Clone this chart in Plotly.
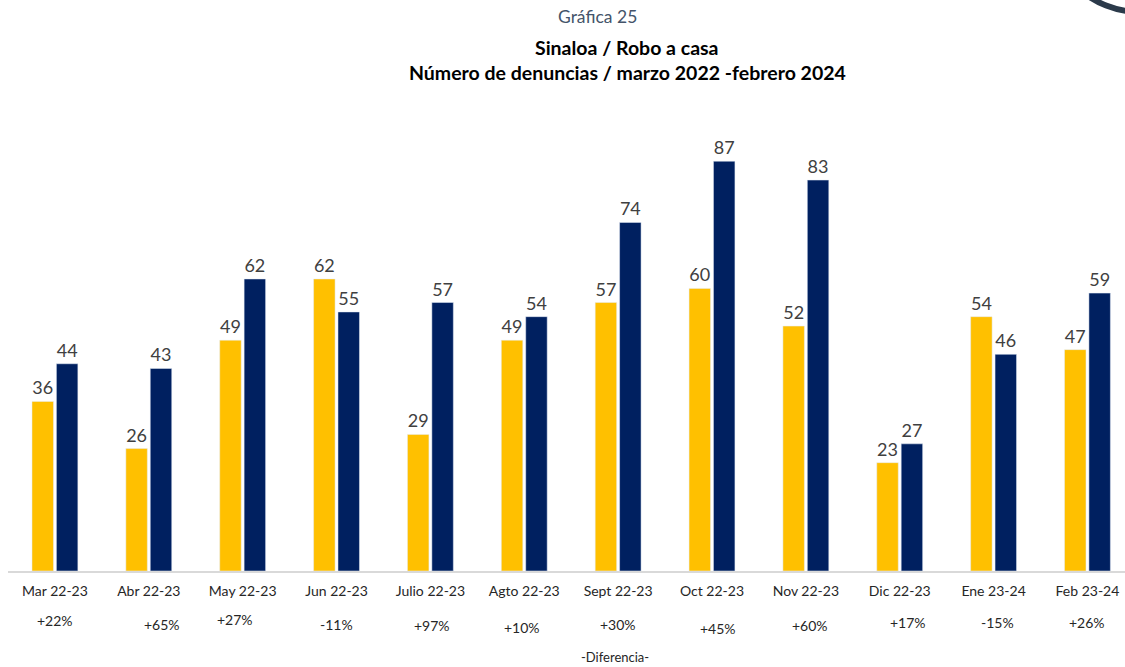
import plotly.graph_objects as go

categories = ["Mar 22-23", "Abr 22-23", "May 22-23", "Jun 22-23", "Julio 22-23", "Agto 22-23",
              "Sept 22-23", "Oct 22-23", "Nov 22-23", "Dic 22-23", "Ene 23-24", "Feb 23-24"]
serie_2022 = [36, 26, 49, 62, 29, 49, 57, 60, 52, 23, 54, 47]
serie_2023 = [44, 43, 62, 55, 57, 54, 74, 87, 83, 27, 46, 59]
diferencias = ["+22%", "+65%", "+27%", "-11%", "+97%", "+10%", "+30%", "+45%", "+60%", "+17%", "-15%", "+26%"]

# small layout offsets (px) for the difference labels, as in the reference
dif_dx = [0, 13, -8, 0, 2, -2, 0, 6, 4, 8, 4, 0]
dif_dy = [622, 626, 621, 626, 627, 629, 626, 630, 627, 624, 624, 624]

FONT = "Lato"
YELLOW = "#FFC000"
NAVY = "#002060"

fig = go.Figure()
fig.add_trace(go.Bar(x=categories, y=serie_2022, name="2022-2023", marker_color=YELLOW,
                     text=serie_2022, textposition="outside", cliponaxis=False,
                     textfont=dict(family=FONT, size=18, color="#404040")))
fig.add_trace(go.Bar(x=categories, y=serie_2023, name="2023-2024", marker_color=NAVY,
                     text=serie_2023, textposition="outside", cliponaxis=False,
                     textfont=dict(family=FONT, size=18, color="#404040")))

AXIS_Y = 571
for i, (c, d) in enumerate(zip(categories, diferencias)):
    fig.add_annotation(x=c, y=0, xref="x", yref="y", text=d, showarrow=False,
                       xshift=dif_dx[i], yshift=-(dif_dy[i] - AXIS_Y - 2), yanchor="middle",
                       font=dict(family=FONT, size=14, color="#262626"))

def px_to_paper_x(px):
    return (px - 8) / 1117

def px_to_paper_y(py):
    return (AXIS_Y - py) / 471

fig.add_annotation(x=px_to_paper_x(615), y=px_to_paper_y(657), xref="paper", yref="paper",
                   text="-Diferencia-", showarrow=False, yanchor="middle",
                   font=dict(family=FONT, size=13, color="#262626"))
fig.add_annotation(x=px_to_paper_x(597), y=px_to_paper_y(16), xref="paper", yref="paper",
                   text="Gráfica 25", showarrow=False, yanchor="middle",
                   font=dict(family=FONT, size=17.5, color="#44546A"))
fig.add_annotation(x=px_to_paper_x(627), y=px_to_paper_y(47), xref="paper", yref="paper",
                   text="<b>Sinaloa / Robo a casa</b>", showarrow=False, yanchor="middle",
                   font=dict(family=FONT, size=19.5, color="#000000"))
fig.add_annotation(x=px_to_paper_x(627), y=px_to_paper_y(72), xref="paper", yref="paper",
                   text="<b>Número de denuncias / marzo 2022 -febrero 2024</b>", showarrow=False,
                   yanchor="middle", font=dict(family=FONT, size=19.5, color="#000000"))

# decorative arc in the top right corner (circle centred off-canvas)
cx, cy, r = 1140, -80, 92
fig.add_shape(type="circle", xref="paper", yref="paper",
              x0=px_to_paper_x(cx - r), x1=px_to_paper_x(cx + r),
              y0=px_to_paper_y(cy + r), y1=px_to_paper_y(cy - r),
              line=dict(color="#2B3A4A", width=6))

fig.update_layout(
    width=1125, height=667,
    margin=dict(l=8, r=0, t=100, b=96),
    paper_bgcolor="white", plot_bgcolor="white",
    barmode="group", bargap=0.48, bargroupgap=0.12,
    showlegend=False,
    xaxis=dict(showline=True, linecolor="#D9D9D9", linewidth=2, ticks="",
               range=[-0.5, 11.4],
               tickfont=dict(family=FONT, size=14, color="#262626"),
               ticklabelstandoff=6, showgrid=False, fixedrange=True),
    yaxis=dict(range=[0, 100], visible=False, showgrid=False, fixedrange=True),
)

fig.write_html(
    "out.html",
    config={"displayModeBar": False},
    post_script="document.body.style.margin='0';document.documentElement.style.overflow='hidden';",
)
